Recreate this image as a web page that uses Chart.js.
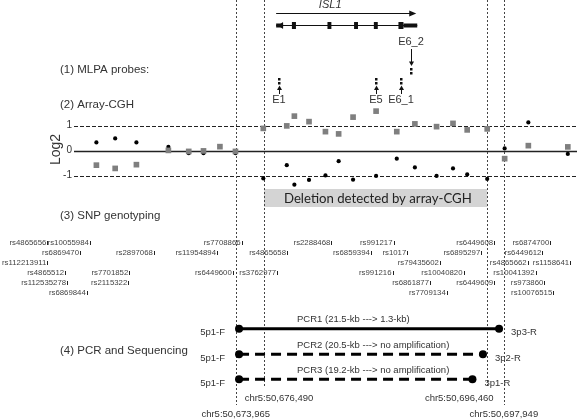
<!DOCTYPE html>
<html>
<head>
<meta charset="utf-8">
<script src="https://cdn.jsdelivr.net/npm/chart.js@4.4.1/dist/chart.umd.min.js"></script>
<style>
  html, body { margin: 0; padding: 0; background: #fff; }
  #wrap { width: 577px; height: 420px; }
</style>
</head>
<body>
<div id="wrap"><canvas id="fig"></canvas></div>
<script>
// all positions in kb on chr5
const boundPos = [50673.965, 50676.490, 50696.460, 50697.949];
const boundLabels = ['chr5:50,673,965', 'chr5:50,676,490', 'chr5:50,696,460', 'chr5:50,697,949'];

const geneName = 'ISL1';
const geneSpan = [50677.58, 50690.11];
const exons = [[50677.58, 50678.20], [50678.99, 50679.35], [50682.17, 50682.52],
               [50684.55, 50684.90], [50686.32, 50686.67], [50688.52, 50690.20]];

const probeNames = ['E1', 'E5', 'E6_1', 'E6_2'];
const probePos = [50677.85, 50686.47, 50688.79, 50689.67];

// array-CGH probes (log2 ratio), black = dots, grey = squares
const cghPos = [50661.50, 50663.18, 50665.08, 50667.94, 50669.76, 50671.08, 50672.55, 50673.94,
                50676.43, 50678.53, 50679.21, 50680.52, 50681.99, 50683.17, 50684.46, 50686.52,
                50688.37, 50689.99, 50691.93, 50693.40, 50694.67, 50696.46, 50698.02, 50700.14, 50703.67];
const cghBlack = [0.33, 0.49, 0.33, 0.15, -0.10, -0.10, null, -0.10,
                  -1.11, -0.58, -1.36, -1.17, -0.99, -0.42, -1.16, -1.01,
                  -0.32, -0.67, -1.01, -0.71, -0.95, -1.13, 0.09, 1.13, -0.13];
const cghGrey = [-0.58, -0.71, -0.56, 0.01, -0.03, -0.01, 0.16, -0.03,
                 0.89, 0.99, 1.38, 1.16, 0.76, 0.67, 1.34, 1.58,
                 0.76, 1.07, 0.96, 1.09, 0.83, 0.87, -0.32, 0.20, 0.15];
const deletion = [50676.490, 50696.460];
const deletionText = 'Deletion detected by array-CGH';

// SNP genotyping markers, row = text line
const snpNames = ['rs4865656', 'rs10055984', 'rs7708866', 'rs2288468', 'rs991217', 'rs6449608', 'rs6874700',
                  'rs6869470', 'rs2897068', 'rs11954894', 'rs4865658', 'rs6859394', 'rs1017', 'rs6895297', 'rs6449612',
                  'rs112213911', 'rs79435602', 'rs4865662', 'rs1158641',
                  'rs4865512', 'rs7701852', 'rs6449600', 'rs3762977', 'rs991216', 'rs10040820', 'rs10041392',
                  'rs112535278', 'rs2115322', 'rs6861877', 'rs6449609', 'rs973860',
                  'rs6869844', 'rs7709134', 'rs10076515'];
const snpPos = [50657.20, 50661.00, 50674.58, 50682.61, 50688.17, 50697.17, 50702.19,
                50660.12, 50666.73, 50672.38, 50678.64, 50686.14, 50689.40, 50696.02, 50701.49,
                50657.20, 50692.31, 50700.17, 50703.96,
                50658.79, 50664.53, 50673.79, 50677.76, 50688.08, 50694.43, 50700.87,
                50658.97, 50664.44, 50691.43, 50697.17, 50701.66,
                50660.73, 50692.93, 50702.46];
const snpRow = [0, 0, 0, 0, 0, 0, 0,
                1, 1, 1, 1, 1, 1, 1, 1,
                2, 2, 2, 2,
                3, 3, 3, 3, 3, 3, 3,
                4, 4, 4, 4, 4,
                5, 5, 5];

// PCR products
const pcrNames = ['PCR1 (21.5-kb ---> 1.3-kb)', 'PCR2 (20.5-kb ---> no amplification)', 'PCR3 (19.2-kb ---> no amplification)'];
const pcrStart = [50674.26, 50674.26, 50674.26];
const pcrEnd = [50697.52, 50696.08, 50695.14];
const pcrFwd = ['5p1-F', '5p1-F', '5p1-F'];
const pcrRev = ['3p3-R', '3p2-R', '3p1-R'];

// layout (pixels)
const W = 577, H = 420;
const pxPerKb = 11.336, leftPx = 235;
const xMin = boundPos[0] - leftPx / pxPerKb;
const xMax = boundPos[0] + (W - leftPx) / pxPerKb;
const cghZero = 149.5, cghUnit = 25.5;
const pcrRowY = [331, 357, 382.5];
const snpRowY = [243, 253, 263, 273, 283, 293];
const boundBottom = [405, 388, 388, 405];
const boundLabelY = [414, 398, 398, 414];
const boundLabelDx = [0, 15, -28, 0];

const SANS = '"Liberation Sans", Arial, sans-serif';

const fig = {
  id: 'fig',
  beforeDatasetsDraw(chart) {
    const { ctx, scales: { x, cgh } } = chart;
    ctx.save();
    // deletion box
    const d0 = x.getPixelForValue(deletion[0]), d1 = x.getPixelForValue(deletion[1]);
    ctx.fillStyle = '#d4d4d4';
    ctx.fillRect(d0, 189, d1 - d0, 18);
    ctx.fillStyle = '#222';
    ctx.font = '13.2px Lato, "Open Sans", sans-serif';
    ctx.textBaseline = 'middle';
    ctx.textAlign = 'left';
    ctx.fillText(deletionText, d0 + 20, 198.5);

    // log2 reference lines
    [1, 0, -1].forEach(v => {
      const y = Math.round(cgh.getPixelForValue(v)) + 0.5;
      ctx.beginPath();
      ctx.strokeStyle = '#222';
      ctx.lineWidth = v === 0 ? 1.5 : 1;
      ctx.setLineDash(v === 0 ? [] : [4, 2]);
      ctx.moveTo(74, y);
      ctx.lineTo(W, y);
      ctx.stroke();
    });
    ctx.setLineDash([]);
    ctx.fillStyle = '#333';
    ctx.font = '10px ' + SANS;
    ctx.textAlign = 'right';
    [1, 0, -1].forEach(v => ctx.fillText(String(v), 72, cgh.getPixelForValue(v)));
    ctx.save();
    ctx.translate(56, cghZero);
    ctx.rotate(-Math.PI / 2);
    ctx.textAlign = 'center';
    ctx.font = '14px ' + SANS;
    ctx.fillText('Log2', 0, 0);
    ctx.restore();

    // boundary lines
    ctx.strokeStyle = '#444';
    ctx.lineWidth = 1;
    ctx.setLineDash([2, 2]);
    boundPos.forEach((p, i) => {
      const bx = Math.round(x.getPixelForValue(p)) + 0.5;
      ctx.beginPath();
      ctx.moveTo(bx, 0);
      ctx.lineTo(bx, boundBottom[i]);
      ctx.stroke();
    });
    ctx.setLineDash([]);
    ctx.restore();
  },
  afterDatasetsDraw(chart) {
    const { ctx, scales: { x } } = chart;
    const px = v => x.getPixelForValue(v);
    ctx.save();
    ctx.textBaseline = 'middle';

    // section titles
    ctx.fillStyle = '#333';
    ctx.font = '11.5px ' + SANS;
    ctx.textAlign = 'left';
    ctx.fillText('(1) MLPA probes:', 60, 70);
    ctx.fillText('(2) Array-CGH', 60, 105);
    ctx.fillText('(3) SNP genotyping', 60, 216);
    ctx.fillText('(4) PCR and Sequencing', 60, 351);

    // gene
    const g0 = px(geneSpan[0]), g1 = px(geneSpan[1]);
    ctx.font = 'italic 11px ' + SANS;
    ctx.textAlign = 'center';
    ctx.fillText(geneName, (g0 + g1) / 2 - 16, 5);
    ctx.strokeStyle = '#111';
    ctx.fillStyle = '#111';
    ctx.lineWidth = 1;
    ctx.beginPath();
    ctx.moveTo(g0, 13.5); ctx.lineTo(g1 - 4, 13.5); ctx.stroke();
    ctx.beginPath();
    ctx.moveTo(g1, 13.5); ctx.lineTo(g1 - 7, 10.5); ctx.lineTo(g1 - 7, 16.5); ctx.closePath(); ctx.fill();
    const gy = 25.5;
    ctx.beginPath();
    ctx.moveTo(g0, gy); ctx.lineTo(px(exons[exons.length - 1][1]), gy); ctx.stroke();
    exons.forEach((e, i) => {
      const a = px(e[0]), b = px(e[1]);
      if (i === exons.length - 1) {
        ctx.fillRect(a, gy - 3.5, 5, 7);
        ctx.fillRect(a + 5, gy - 2, b - a - 5, 4);
      } else if (i === 0) {
        ctx.fillRect(a, gy - 2, b - a, 4);
        ctx.beginPath();
        ctx.moveTo(a + 2, gy); ctx.lineTo(b, gy - 3.5); ctx.lineTo(b, gy + 3.5); ctx.closePath(); ctx.fill();
      } else {
        ctx.fillRect(a, gy - 3.5, b - a, 7);
      }
    });

    // MLPA probes
    ctx.font = '11px ' + SANS;
    probeNames.forEach((n, i) => {
      const p = Math.round(px(probePos[i]));
      const up = i < 3;
      const mTop = up ? 78 : 68;
      ctx.fillStyle = '#111';
      ctx.fillRect(p - 1, mTop, 2.5, 2.5);
      ctx.fillRect(p - 1, mTop + 4, 2.5, 2.5);
      ctx.strokeStyle = '#111';
      ctx.beginPath();
      if (up) {
        ctx.moveTo(p + 0.5, 94); ctx.lineTo(p + 0.5, 88); ctx.stroke();
        ctx.beginPath();
        ctx.moveTo(p + 0.5, 85.5); ctx.lineTo(p - 2, 90); ctx.lineTo(p + 3, 90); ctx.closePath(); ctx.fill();
        ctx.fillStyle = '#333';
        ctx.fillText(n, p, 100);
      } else {
        ctx.moveTo(p + 0.5, 49); ctx.lineTo(p + 0.5, 62); ctx.stroke();
        ctx.beginPath();
        ctx.moveTo(p + 0.5, 66); ctx.lineTo(p - 2, 61.5); ctx.lineTo(p + 3, 61.5); ctx.closePath(); ctx.fill();
        ctx.fillStyle = '#333';
        ctx.fillText(n, p, 42);
      }
    });

    // SNP labels, tick mark at the marker position
    ctx.font = '7.8px ' + SANS;
    ctx.textAlign = 'right';
    snpNames.forEach((n, i) => {
      const p = px(snpPos[i]);
      const y = snpRowY[snpRow[i]];
      ctx.fillStyle = '#444';
      ctx.fillText(n, p - 2, y);
      ctx.fillStyle = '#222';
      ctx.fillRect(Math.round(p) - 1, y - 2, 1, 4);
    });

    // PCR labels
    ctx.font = '9.5px ' + SANS;
    ctx.fillStyle = '#333';
    pcrNames.forEach((n, i) => {
      const y = pcrRowY[i];
      ctx.textAlign = 'left';
      ctx.fillText(n, 297, y - 12);
      ctx.fillText(pcrRev[i], px(pcrEnd[i]) + 12, y + 1);
      ctx.textAlign = 'right';
      ctx.fillText(pcrFwd[i], px(pcrStart[i]) - 14, y + 1);
    });

    // boundary coordinate labels
    ctx.textAlign = 'center';
    boundLabels.forEach((t, i) => ctx.fillText(t, px(boundPos[i]) + boundLabelDx[i], boundLabelY[i]));
    ctx.restore();
  }
};

const blackPts = [], greyPts = [];
cghPos.forEach((p, i) => {
  if (cghBlack[i] !== null) blackPts.push({ x: p, y: cghBlack[i] });
  greyPts.push({ x: p, y: cghGrey[i] });
});

const pcrSets = pcrNames.map((n, i) => ({
  type: 'line',
  label: n,
  yAxisID: 'lay',
  data: [{ x: pcrStart[i], y: pcrRowY[i] }, { x: pcrEnd[i], y: pcrRowY[i] }],
  borderColor: '#000',
  borderWidth: 3,
  borderDash: i === 0 ? [] : [10, 6],
  pointRadius: 4,
  pointBackgroundColor: '#000',
  pointBorderWidth: 0,
  fill: false
}));

new Chart(document.getElementById('fig'), {
  type: 'scatter',
  data: {
    datasets: [
      { label: 'grey', yAxisID: 'cgh', data: greyPts, pointStyle: 'rect', pointRadius: 4,
        backgroundColor: '#7f7f7f', borderWidth: 0 },
      { label: 'black', yAxisID: 'cgh', data: blackPts, pointStyle: 'circle', pointRadius: 2.1,
        backgroundColor: '#000', borderWidth: 0 },
      ...pcrSets
    ]
  },
  options: {
    responsive: true,
    maintainAspectRatio: false,
    animation: false,
    layout: { padding: 0 },
    plugins: { legend: { display: false }, tooltip: { enabled: false } },
    scales: {
      x: { type: 'linear', min: xMin, max: xMax, display: false },
      cgh: { type: 'linear', display: false, min: -(H - cghZero) / cghUnit, max: cghZero / cghUnit },
      lay: { type: 'linear', display: false, reverse: true, min: 0, max: H }
    }
  },
  plugins: [fig]
});
</script>
</body>
</html>
